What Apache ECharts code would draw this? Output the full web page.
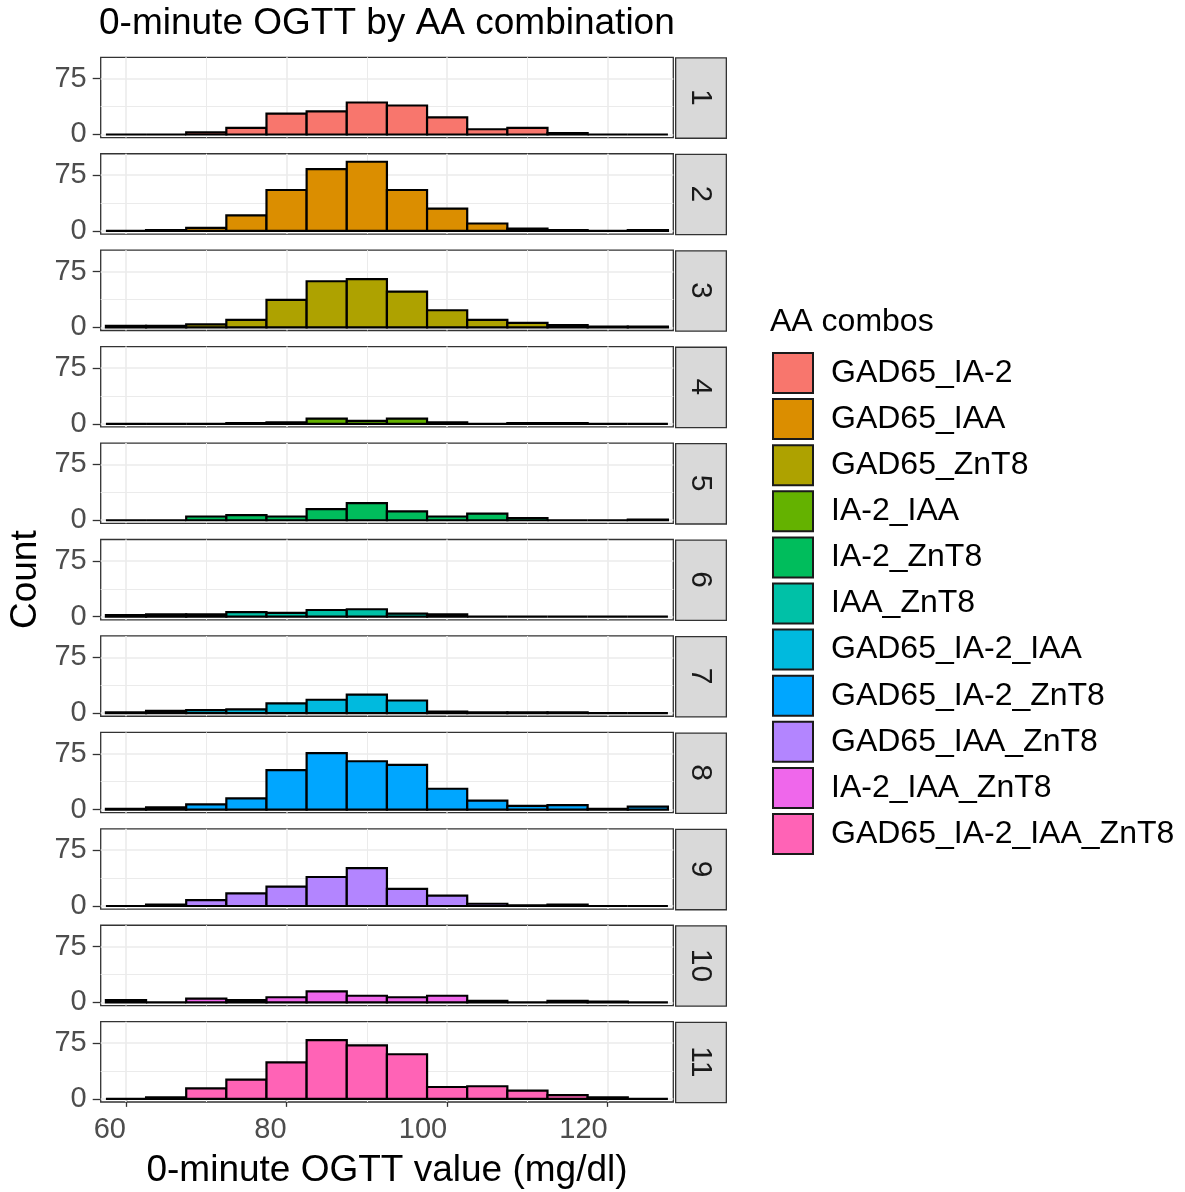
<!DOCTYPE html>
<html><head><meta charset="utf-8">
<script src="https://cdn.jsdelivr.net/npm/echarts@6/dist/echarts.min.js"></script>
<style>html,body{margin:0;padding:0;background:#fff}#chart{width:1185px;height:1192px}</style>
</head><body><div id="chart"></div>
<script>
// ---- data ----
const binCenters = [60, 65, 70, 75, 80, 85, 90, 95, 100, 105, 110, 115, 120, 125];
const binWidth = 5;
const panelLabels = ['1','2','3','4','5','6','7','8','9','10','11'];
const comboNames = ['GAD65_IA-2','GAD65_IAA','GAD65_ZnT8','IA-2_IAA','IA-2_ZnT8','IAA_ZnT8',
  'GAD65_IA-2_IAA','GAD65_IA-2_ZnT8','GAD65_IAA_ZnT8','IA-2_IAA_ZnT8','GAD65_IA-2_IAA_ZnT8'];
const comboColors = ['#F8766D','#DB8E00','#AEA200','#64B200','#00BD5C','#00C1A7',
  '#00BADE','#00A6FF','#B385FF','#EF67EB','#FF63B6'];
const counts1  = [0, 0, 3,  9, 28, 31, 43, 39, 23,  7,  9, 2, 0, 0];
const counts2  = [0, 1, 4, 21, 55, 83, 93, 55, 30, 10,  3, 1, 0, 1];
const counts3  = [2, 2, 4, 10, 37, 62, 65, 48, 23, 10,  6, 3, 1, 1];
const counts4  = [0, 0, 0,  1,  2,  7,  4,  7,  2,  0,  1, 1, 0, 0];
const counts5  = [0, 0, 5,  7,  5, 15, 23, 12,  5,  9,  3, 0, 0, 1];
const counts6  = [2, 3, 3,  6,  5,  9, 10,  4,  3,  0,  0, 0, 0, 0];
const counts7  = [1, 3, 4,  5, 13, 18, 25, 17,  2,  1,  1, 1, 0, 0];
const counts8  = [1, 3, 7, 15, 53, 76, 65, 60, 28, 12,  5, 6, 1, 4];
const counts9  = [0, 2, 8, 17, 26, 39, 51, 23, 14,  3,  1, 2, 0, 0];
const counts10 = [3, 0, 5,  3,  7, 15,  9,  7,  9,  2,  0, 2, 1, 0];
const counts11 = [0, 2, 14, 26, 49, 79, 72, 60, 16, 17, 11, 5, 2, 0];
const allCounts = [counts1, counts2, counts3, counts4, counts5, counts6, counts7, counts8, counts9, counts10, counts11];
const xTicks = [60, 80, 100, 120];
const xMinor = [70, 90, 110];
const yTicks = [0, 75];
const yMinor = [37.5];

// ---- layout ----
const FONT = "'Liberation Sans', Arial, sans-serif";
const PL = 100.7, PW = 572.6, PT0 = 57.3, PITCH = 96.44, PH = 80.3;
const XMIN = 56.85, XMAX = 128.17, YMIN = -4.2, YMAX = 103.8;
const N = allCounts.length;

const grids = [], xAxes = [], yAxes = [], series = [], graphics = [];
for (let i = 0; i < N; i++) {
  const top = PT0 + PITCH * i;
  grids.push({left: PL, top: top, width: PW, height: PH, show: true,
    backgroundColor: '#fff', borderColor: '#333333', borderWidth: 1.3, containLabel: false});
  const last = i === N - 1;
  xAxes.push({type: 'value', gridIndex: i, min: XMIN, max: XMAX,
    axisLine: {show: false},
    axisTick: {show: last, length: 8, customValues: xTicks, lineStyle: {color: '#333333', width: 1.3}},
    axisLabel: {show: last, customValues: xTicks, align: 'right', margin: 13, fontSize: 29, color: '#4D4D4D', fontFamily: FONT},
    splitLine: {show: false},
    name: last ? '0-minute OGTT value (mg/dl)' : '',
    nameLocation: 'middle', nameGap: 50,
    nameTextStyle: {fontSize: 37, color: '#000', fontFamily: FONT}
  });
  yAxes.push({type: 'value', gridIndex: i, min: YMIN, max: YMAX,
    axisLine: {show: false},
    axisTick: {show: true, length: 8, customValues: yTicks, lineStyle: {color: '#333333', width: 1.3}},
    axisLabel: {show: true, customValues: yTicks, margin: 14, fontSize: 29, color: '#4D4D4D', fontFamily: FONT},
    splitLine: {show: false},
    name: i === 5 ? 'Count' : '',
    nameLocation: 'middle', nameGap: 56,
    nameTextStyle: {fontSize: 37, color: '#000', fontFamily: FONT}
  });
  const gl = [];
  xTicks.forEach(v => gl.push({xAxis: v, lineStyle: {color: '#EBEBEB', width: 1.6, type: 'solid'}}));
  xMinor.forEach(v => gl.push({xAxis: v, lineStyle: {color: '#EBEBEB', width: 1.0, type: 'solid'}}));
  yTicks.forEach(v => gl.push({yAxis: v, lineStyle: {color: '#EBEBEB', width: 1.6, type: 'solid'}}));
  yMinor.forEach(v => gl.push({yAxis: v, lineStyle: {color: '#EBEBEB', width: 1.0, type: 'solid'}}));
  series.push({type: 'line', xAxisIndex: i, yAxisIndex: i, data: [], silent: true, z: 1,
    markLine: {silent: true, symbol: 'none', label: {show: false}, z: 1, animation: false, data: gl}});
  const color = comboColors[i];
  series.push({type: 'custom', name: comboNames[i], xAxisIndex: i, yAxisIndex: i, z: 3,
    itemStyle: {color: color},
    encode: {x: [0, 1], y: 2},
    data: binCenters.map((c, k) => [c - binWidth / 2, c + binWidth / 2, allCounts[i][k]]),
    renderItem: function (params, api) {
      const p0 = api.coord([api.value(0), api.value(2)]);
      const p1 = api.coord([api.value(1), 0]);
      return {type: 'rect',
        shape: {x: p0[0], y: p0[1], width: p1[0] - p0[0], height: p1[1] - p0[1]},
        style: {fill: color, stroke: '#000', lineWidth: 2.2}};
    }
  });
  // strip
  graphics.push({type: 'rect', left: 675, top: top, shape: {x: 0, y: 0, width: 50.7, height: PH},
    style: {fill: '#D9D9D9', stroke: '#333333', lineWidth: 1.3}});
  graphics.push({type: 'text', x: 700.3, y: top + PH / 2, rotation: -Math.PI / 2,
    style: {text: panelLabels[i], fontSize: 30, fill: '#1A1A1A', fontFamily: FONT, align: 'center', verticalAlign: 'middle'}});
}

const chart = echarts.init(document.getElementById('chart'), null, {renderer: 'canvas'});
chart.setOption({
  animation: false,
  backgroundColor: '#fff',
  title: [
    {text: '0-minute OGTT by AA combination', left: 99, top: 5, padding: 0,
      textStyle: {fontSize: 37, fontWeight: 'normal', color: '#000', fontFamily: FONT}},
    {text: 'AA combos', left: 770, top: 306, padding: 0,
      textStyle: {fontSize: 32, fontWeight: 'normal', color: '#000', fontFamily: FONT}}
  ],
  legend: {orient: 'vertical', left: 772, top: 352, padding: 0, itemWidth: 40, itemHeight: 40, itemGap: 4.1,
    selectedMode: false,
    textStyle: {fontSize: 32, color: '#000', fontFamily: FONT, padding: [0, 0, 0, 13]},
    data: comboNames.map((n, i) => ({name: n, icon: 'rect',
      itemStyle: {color: comboColors[i], borderColor: '#1a1a1a', borderWidth: 2}}))
  },
  grid: grids, xAxis: xAxes, yAxis: yAxes, series: series, graphic: graphics
});
</script></body></html>
